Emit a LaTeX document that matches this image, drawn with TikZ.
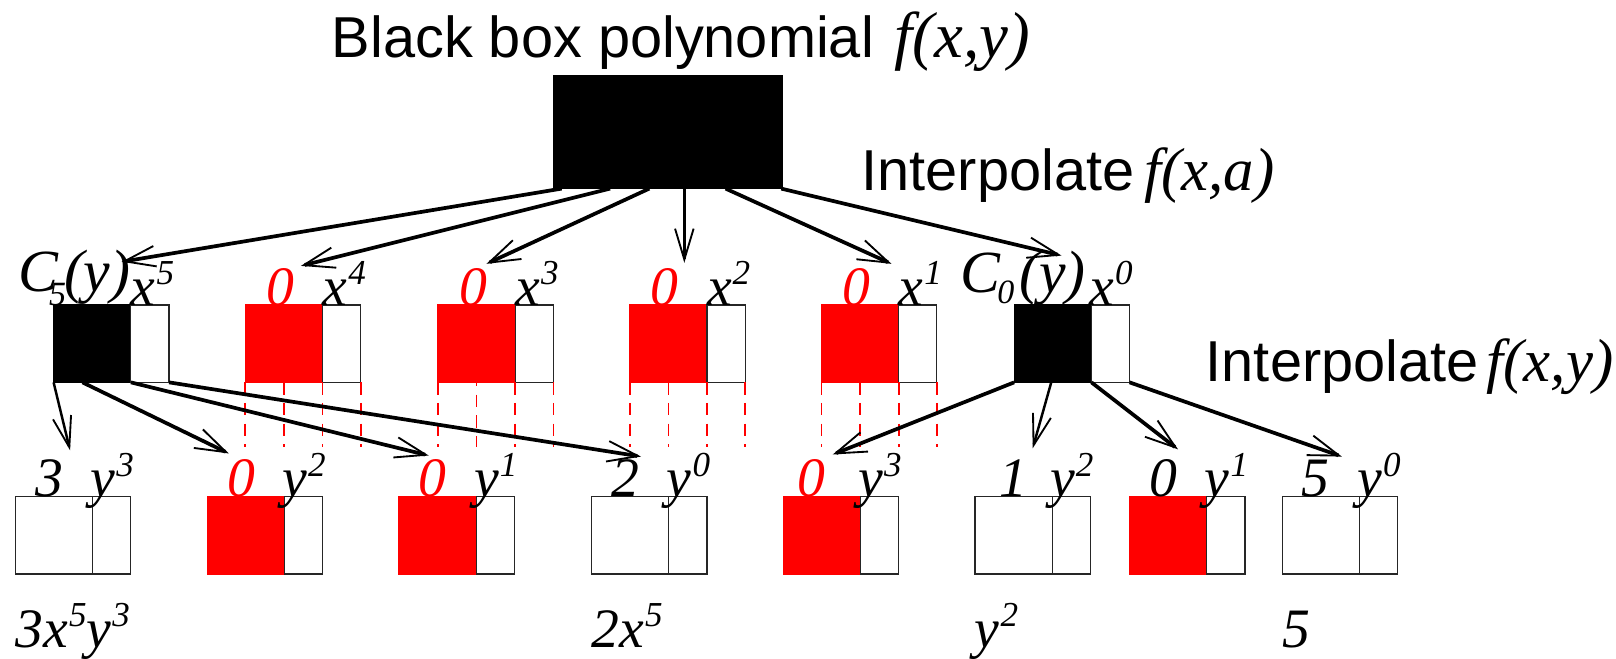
\documentclass[tikz,border=0pt]{standalone}
\usepackage{fontspec}
\setmainfont{Liberation Serif}
\setsansfont{Liberation Sans}
\usetikzlibrary{arrows.meta}

% raised / lowered small figures for exponents and indices
\newcommand\supr[1]{\kern1pt\raisebox{20pt}{\fontsize{34}{36}\selectfont #1}}
\newcommand\subr[2]{\raisebox{-#2}{\fontsize{33}{35}\selectfont #1}}
% italic serif for the function names in the headings
\newcommand\fxyfont{\fontsize{59}{62}\selectfont\rmfamily\itshape}
\newcommand\fxybig{\fontsize{63}{65}\selectfont\rmfamily\itshape}

\tikzset{
  lbl/.style={inner sep=0pt, outer sep=0pt, font=\fontsize{54}{60}\selectfont\itshape},
  biglbl/.style={inner sep=0pt, outer sep=0pt, font=\fontsize{58}{60}\selectfont\itshape},
  ttl/.style={inner sep=0pt, outer sep=0pt, font=\fontsize{56}{60}\selectfont\sffamily},
  cellbox/.style={minimum width=75pt, minimum height=75pt, inner sep=0pt, outer sep=0pt,
                  anchor=north west, line width=1.1pt},
  expbox/.style={minimum width=37pt, minimum height=75pt, inner sep=0pt, outer sep=0pt,
                 anchor=north west, draw=black!85, fill=white, line width=1.1pt},
  redc/.style={cellbox, fill=red, draw=red},
  blkc/.style={cellbox, fill=black, draw=black},
  whtc/.style={cellbox, fill=white, draw=black!85},
  arr/.style={line width=3.6pt, -{Straight Barb[length=30pt,width=20pt,line width=1.8pt]}},
  tarr/.style={line width=2.4pt, -{Straight Barb[length=30pt,width=18pt,line width=1.8pt]}},
  guide/.style={red, line width=1.6pt, dash pattern=on 12pt off 8pt},
}

% a coefficient cell followed by its narrow exponent cell
\newcommand\cellpair[4]{%
  \node[#2] (#1c) at (#3,#4) {};
  \node[expbox] (#1e) at (#1c.north east) {};}

% four dashed guides below a cell pair
\newcommand\guides[2][0pt]{%
  \draw[guide] (#2c.south west) -- ++(0,63);
  \draw[guide, dash phase=#1] (#2c.south) -- ++(0,63);
  \draw[guide] (#2c.south east) -- ++(0,63);
  \draw[guide] (#2e.south east) -- ++(0,63);}

\begin{document}
\begin{tikzpicture}[x=1pt, y=-1pt]
\useasboundingbox (0,0) rectangle (1568,639);

% ---- black box and headings ----
\node[ttl, anchor=base west] (title) at (322,56)
  {Black box polynomial\hspace{20pt}{\fxybig f(x,y)}};
\node[fill=black, inner sep=0pt, outer sep=0pt, minimum width=223pt, minimum height=110pt,
      anchor=north west] (bb) at (537,73) {};
\node[ttl, anchor=base west] (ia) at (836,185)
  {Interpolate\hspace{10pt}{\fxyfont f(x,a)}};
\node[ttl, anchor=base west] (iy) at (1170,370)
  {Interpolate\hspace{8pt}{\fxyfont f(x,y)}};

% ---- univariate coefficients in x ----
\cellpair{m1}{blkc}{52}{296}
\cellpair{m2}{redc}{238}{296}
\cellpair{m3}{redc}{425}{296}
\cellpair{m4}{redc}{611}{296}
\cellpair{m5}{redc}{797}{296}
\cellpair{m6}{blkc}{984}{296}

\node[biglbl, anchor=base west] (c5) at (18,283)
  {C\kern-9pt\subr{5}{13pt}\kern-2pt(y)};
\node[lbl, anchor=base west] (x5) at (127,296) {x\supr{5}};
\node[lbl, red, anchor=base] (k4) at (272,296) {0};
\node[lbl, anchor=base west] (x4) at (313,296) {x\supr{4}};
\node[lbl, red, anchor=base] (k3) at (459,296) {0};
\node[lbl, anchor=base west] (x3) at (500,296) {x\supr{3}};
\node[lbl, red, anchor=base] (k2) at (645,296) {0};
\node[lbl, anchor=base west] (x2) at (686,296) {x\supr{2}};
\node[lbl, red, anchor=base] (k1) at (831,296) {0};
\node[lbl, anchor=base west] (x1) at (872,296) {x\supr{1}};
\node[biglbl, anchor=base west] (c0) at (932,284)
  {C\kern-3pt\subr{0}{10pt}\kern5pt(y)};
\node[lbl, anchor=base west] (x0) at (1057,296) {x\supr{0}};

\guides{m2}
\guides[8pt]{m3}
\guides{m4}
\guides{m5}

% ---- coefficients in y ----
\cellpair{b1}{whtc}{15}{482}
\cellpair{b2}{redc}{201}{482}
\cellpair{b3}{redc}{387}{482}
\cellpair{b4}{whtc}{574}{482}
\cellpair{b5}{redc}{760}{482}
\cellpair{b6}{whtc}{946}{482}
\cellpair{b7}{redc}{1096}{482}
\cellpair{b8}{whtc}{1244}{482}

\node[lbl, anchor=base] (v1) at (48,482) {3};
\node[lbl, anchor=base west] (y1) at (88,482) {y\supr{3}};
\node[lbl, red, anchor=base] (v2) at (234,482) {0};
\node[lbl, anchor=base west] (y2) at (274,482) {y\supr{2}};
\node[lbl, red, anchor=base] (v3) at (420,482) {0};
\node[lbl, anchor=base west] (y3) at (460,482) {y\supr{1}};
\node[lbl, anchor=base] (v4) at (607,482) {2};
\node[lbl, anchor=base west] (y4) at (647,482) {y\supr{0}};
\node[lbl, red, anchor=base] (v5) at (787,482) {0};
\node[lbl, anchor=base west] (y5) at (833,482) {y\supr{3}};
\node[lbl, anchor=base] (v6) at (983,482) {1};
\node[lbl, anchor=base west] (y6) at (1019,482) {y\supr{2}};
\node[lbl, anchor=base] (v7) at (1129,482) {0};
\node[lbl, anchor=base west] (y7) at (1169,482) {y\supr{1}};
\node[lbl, anchor=base] (v8) at (1276,482) {5};
\node[lbl, anchor=base west] (y8) at (1317,482) {y\supr{0}};

% ---- resulting terms ----
\node[lbl, anchor=base west] (r1) at (15,628) {3x\supr{5}y\supr{3}};
\node[lbl, anchor=base west] (r2) at (574,628) {2x\supr{5}};
\node[lbl, anchor=base west] (r3) at (946,628) {y\supr{2}};
\node[lbl, anchor=base west] (r4) at (1244,628) {5};

% ---- arrow targets ----
\coordinate (t1) at (118,254);
\coordinate (t2) at (292,258);
\coordinate (t3) at (472,256);
\coordinate (t4) at (664,255);
\coordinate (t5) at (865,256);
\coordinate (t6) at (1030,248);
\coordinate (u1) at (68,437);
\coordinate (u2) at (222,440);
\coordinate (u3) at (416,442);
\coordinate (u4) at (622,443);
\coordinate (u5) at (808,441);
\coordinate (u6) at (1002,435);
\coordinate (u7) at (1143,436);
\coordinate (u8) at (1302,443);

% first interpolation: f(x,a) -> coefficients of x
\draw[arr]  ([xshift=8pt]bb.south west)  -- (t1);
\draw[arr]  ([xshift=55pt]bb.south west) -- (t2);
\draw[arr]  ([xshift=93pt]bb.south west) -- (t3);
\draw[tarr] ([xshift=127pt]bb.south west) -- (t4);
\draw[arr]  ([xshift=167pt]bb.south west) -- (t5);
\draw[arr]  ([xshift=-2pt]bb.south east) -- (t6);

% second interpolation: C5(y) and C0(y) -> coefficients of y
\draw[tarr] (m1c.south west) -- (u1);
\draw[arr]  ([xshift=28pt]m1c.south west) -- (u2);
\draw[arr]  (m1c.south east) -- (u3);
\draw[arr]  (m1e.south east) -- (u4);
\draw[arr]  (m6c.south west) -- (u5);
\draw[tarr] ([xshift=36pt]m6c.south west) -- (u6);
\draw[arr]  (m6c.south east) -- (u7);
\draw[arr]  (m6e.south east) -- (u8);
\end{tikzpicture}
\end{document}
